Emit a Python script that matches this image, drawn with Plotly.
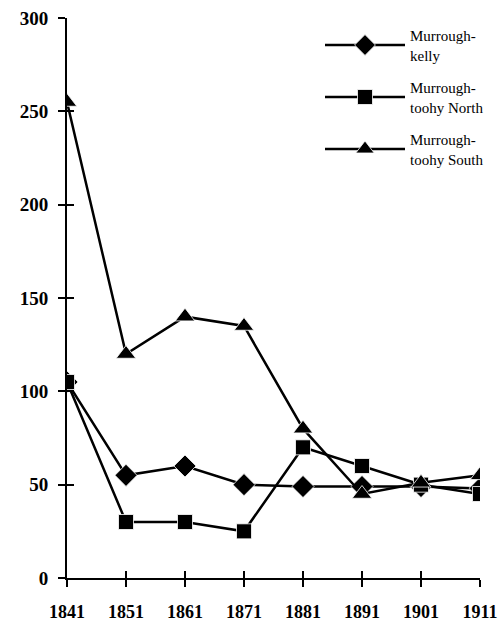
import plotly.graph_objects as go

years = [1841, 1851, 1861, 1871, 1881, 1891, 1901, 1911]
murroughkelly = [105, 55, 60, 50, 49, 49, 49, 48]
toohy_north = [105, 30, 30, 25, 70, 60, 50, 45]
toohy_south = [255, 120, 140, 135, 80, 45, 51, 55]
y_ticks = [0, 50, 100, 150, 200, 250, 300]

font_serif = "Liberation Serif, Times New Roman, serif"

fig = go.Figure()
series = [
    ("Murrough-<br>kelly", murroughkelly, "diamond", 17),
    ("Murrough-<br>toohy North", toohy_north, "square", 15),
    ("Murrough-<br>toohy South", toohy_south, "triangle-up", 17),
]
for i, (name, vals, sym, size) in enumerate(series):
    fig.add_trace(go.Scatter(
        x=years, y=vals, name=name, mode="lines+markers",
        legendgroup=f"g{i}",
        line=dict(color="black", width=2.5),
        marker=dict(symbol=sym, size=size, color="black",
                    line=dict(color="white", width=0.8)),
    ))

# invisible trace to carry inside ticks on overlay axes
fig.add_trace(go.Scatter(x=[years[0]], y=[0], xaxis="x2", yaxis="y2",
                         mode="markers", marker=dict(opacity=0),
                         showlegend=False, hoverinfo="skip"))

tickfont_y = dict(family=font_serif, size=19, color="black", weight="bold")
tickfont_x = dict(family=font_serif, size=18, color="black", weight="bold")

fig.update_layout(
    width=504, height=623,
    margin=dict(l=67, r=24, t=18, b=45, autoexpand=False),
    paper_bgcolor="white", plot_bgcolor="white",
    showlegend=True,
    legend=dict(x=(320 - 67) / 413, y=1 - (19 - 18) / 560, xanchor="left", yanchor="top",
                font=dict(family=font_serif, size=15, color="black"),
                itemwidth=80, tracegroupgap=10, traceorder="grouped",
                bgcolor="rgba(0,0,0,0)"),
    xaxis=dict(range=[1841, 1911], tickvals=years, ticktext=[str(y) for y in years],
               showgrid=False, zeroline=False, showline=True, linecolor="black",
               linewidth=2, ticks="outside", ticklen=7, tickwidth=2, tickcolor="black",
               tickfont=tickfont_x, ticklabelstandoff=9, automargin=False,
               ticklabeloverflow="allow"),
    yaxis=dict(range=[0, 300], tickvals=y_ticks,
               showgrid=False, zeroline=False, showline=True, linecolor="black",
               linewidth=2, ticks="outside", ticklen=7, tickwidth=2, tickcolor="black",
               tickfont=tickfont_y, ticklabelstandoff=6, automargin=False,
               ticklabeloverflow="allow"),
    xaxis2=dict(range=[1841, 1911], tickvals=years, overlaying="x",
                showticklabels=False, showgrid=False, zeroline=False, showline=False,
                ticks="inside", ticklen=7, tickwidth=2, tickcolor="black", automargin=False),
    yaxis2=dict(range=[0, 300], tickvals=y_ticks, overlaying="y",
                showticklabels=False, showgrid=False, zeroline=False, showline=False,
                ticks="inside", ticklen=7, tickwidth=2, tickcolor="black", automargin=False),
)

fig.write_html("out.html", config={"displayModeBar": False},
               post_script="document.body.style.margin='0';document.body.style.overflow='hidden';")
